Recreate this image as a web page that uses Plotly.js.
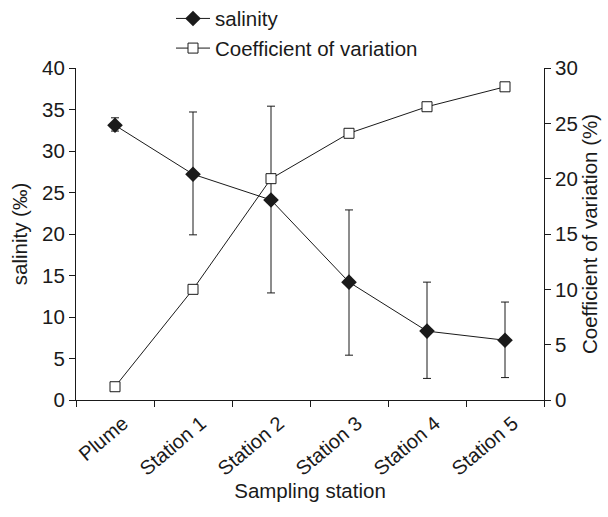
<!DOCTYPE html>
<html>
<head>
<meta charset="utf-8">
<script src="https://cdn.plot.ly/plotly-3.0.1.min.js"></script>
<style>html,body{margin:0;padding:0;background:#fff;}#chart{width:608px;height:517px;}</style>
</head>
<body>
<div id="chart"></div>
<script>
var stations = ["Plume", "Station 1", "Station 2", "Station 3", "Station 4", "Station 5"];
var salinity = [33.1, 27.2, 24.1, 14.2, 8.3, 7.2];
var salinityTop = [34.0, 34.7, 35.4, 22.9, 14.2, 11.8];
var salinityBottom = [32.4, 19.9, 12.9, 5.4, 2.6, 2.7];
var cv = [1.2, 10.0, 20.0, 24.1, 26.5, 28.3];
var leftTicks = [0, 5, 10, 15, 20, 25, 30, 35, 40];
var rightTicks = [0, 5, 10, 15, 20, 25, 30];

var errPlus = salinityTop.map(function (t, i) { return t - salinity[i]; });
var errMinus = salinityBottom.map(function (b, i) { return salinity[i] - b; });

var ink = '#1a1a1a';
var fontFam = '"Liberation Sans", Arial, Helvetica, sans-serif';
var fs = 20.5;

var traces = [
  {
    x: stations, y: salinity, name: 'salinity', type: 'scatter', mode: 'lines+markers',
    line: {color: ink, width: 1},
    marker: {symbol: 'diamond', size: 12, color: ink, line: {color: ink, width: 0}},
    error_y: {type: 'data', symmetric: false, array: errPlus, arrayminus: errMinus,
              color: ink, thickness: 1, width: 4},
    yaxis: 'y'
  },
  {
    x: stations, y: cv, name: 'Coefficient of variation', type: 'scatter', mode: 'lines+markers',
    line: {color: ink, width: 1},
    marker: {symbol: 'square', size: 10, color: '#ffffff', line: {color: ink, width: 1}},
    yaxis: 'y2'
  }
];

var layout = {
  width: 608, height: 517,
  margin: {l: 76, r: 64, t: 68, b: 117, pad: 0, autoexpand: false},
  paper_bgcolor: '#ffffff', plot_bgcolor: '#ffffff',
  font: {family: fontFam, size: fs, color: ink},
  showlegend: true,
  legend: {x: 0.203, xanchor: 'left', y: 1.209, yanchor: 'top',
           orientation: 'v', bgcolor: 'rgba(0,0,0,0)', font: {size: fs},
           tracegroupgap: 0, itemwidth: 34},
  xaxis: {
    type: 'category', range: [-0.5, 5.5], tickson: 'boundaries',
    showline: true, linecolor: ink, linewidth: 1, mirror: false,
    ticks: 'outside', ticklen: 6, tickcolor: ink, tickwidth: 1,
    tickangle: -40, ticklabelshift: 8, ticklabelstandoff: 3,
    tickfont: {size: 20},
    showgrid: false, zeroline: false,
    title: {text: 'Sampling station', font: {size: fs}, standoff: 0}
  },
  yaxis: {
    range: [0, 40], tickvals: leftTicks, ticktext: leftTicks.map(String),
    showline: true, linecolor: ink, linewidth: 1,
    ticks: 'outside', ticklen: 6, tickcolor: ink, tickwidth: 1,
    showgrid: false, zeroline: false,
    title: {text: 'salinity (‰)', font: {size: fs}, standoff: 8}
  },
  yaxis2: {
    range: [0, 30], tickvals: rightTicks, ticktext: rightTicks.map(String),
    overlaying: 'y', side: 'right',
    showline: true, linecolor: ink, linewidth: 1,
    ticks: 'outside', ticklen: 6, tickcolor: ink, tickwidth: 1,
    showgrid: false, zeroline: false,
    title: {text: 'Coefficient of variation (%)', font: {size: fs}, standoff: 4}
  }
};

Plotly.newPlot('chart', traces, layout, {displayModeBar: false, staticPlot: true});
</script>
</body>
</html>
